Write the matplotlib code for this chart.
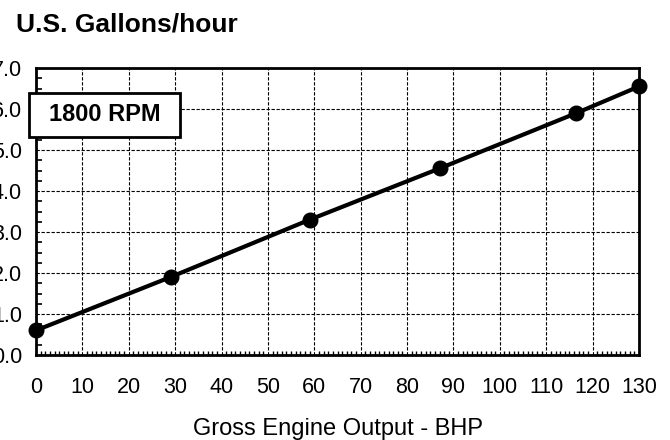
import numpy as np
import matplotlib
matplotlib.use('Agg')
import matplotlib.pyplot as plt
from matplotlib.patches import Rectangle
from matplotlib.ticker import MultipleLocator

plt.rcParams['font.family'] = ['Liberation Sans', 'DejaVu Sans']

# data
bhp = [0, 29, 59, 87, 116.5, 130]
gph = [0.6, 1.9, 3.3, 4.55, 5.9, 6.55]
x_ticks = list(range(0, 131, 10))
y_ticks = [0, 1, 2, 3, 4, 5, 6, 7]
y_labels = ['%.1f' % v for v in y_ticks]

fig = plt.figure(figsize=(6.7, 4.4), dpi=100)
ax = fig.add_axes([36/670, 1 - 355/440, (639 - 36)/670, (355 - 68)/440])

ax.plot(bhp, gph, '-', color='black', linewidth=3, clip_on=False, zorder=3)
ax.plot(bhp, gph, 'o', color='black', markersize=10.5, clip_on=False, zorder=4)

ax.set_xlim(0, 130)
ax.set_ylim(0, 7)
ax.set_xticks(x_ticks)
ax.set_yticks(y_ticks)
ax.set_yticklabels(y_labels)
ax.xaxis.set_minor_locator(MultipleLocator(1))
ax.yaxis.set_minor_locator(MultipleLocator(0.25))

ax.tick_params(which='major', direction='in', length=0, labelsize=15.5)
ax.tick_params(axis='x', which='major', pad=15.5)
ax.tick_params(axis='y', which='major', pad=10)
ax.tick_params(axis='x', which='minor', direction='in', length=3, width=1)
ax.tick_params(axis='y', which='minor', direction='in', length=4, width=1.2)

ax.grid(True, which='major', color='black', linestyle=(0, (3, 1.5)), linewidth=0.8)
for s in ax.spines.values():
    s.set_linewidth(2)

# x axis title
fig.text(338/670, 1 - 434.5/440, 'Gross Engine Output - BHP', fontsize=17,
         ha='center', va='baseline')

fig.text(16/670, 1 - 31/440, 'U.S. Gallons/hour', fontsize=19, fontweight='bold',
         ha='left', va='baseline')

# label box
fig.patches.append(Rectangle((29/670, 1 - 136.7/440), 151/670, 44/440,
                             transform=fig.transFigure, facecolor='white',
                             edgecolor='black', linewidth=2, zorder=5))
fig.text(104.5/670, 1 - 114.7/440, '1800 RPM', fontsize=17, fontweight='bold',
         ha='center', va='center', zorder=6)

fig.savefig('out.png', dpi=100)
